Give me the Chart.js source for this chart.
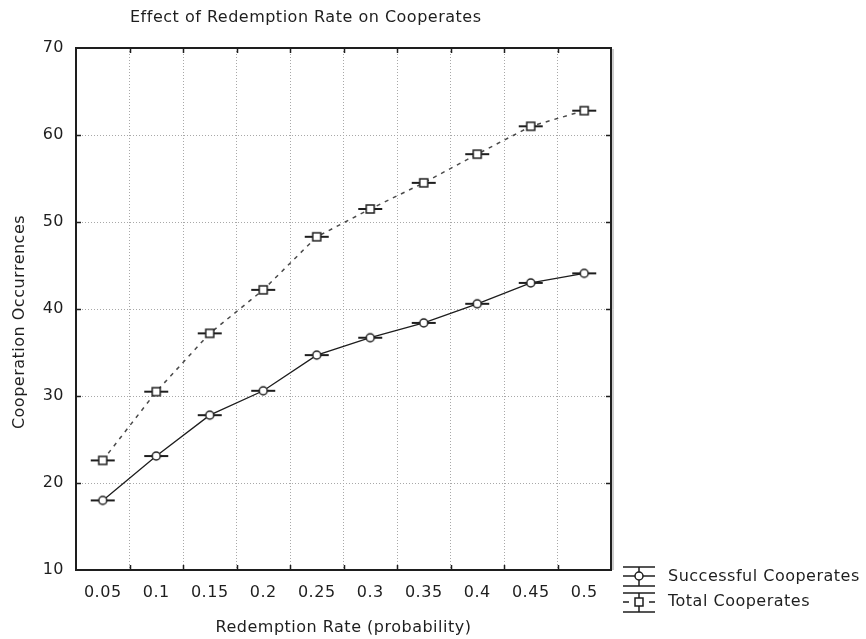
<!DOCTYPE html>
<html>
<head>
<meta charset="utf-8">
<title>Effect of Redemption Rate on Cooperates</title>
<script src="https://cdn.jsdelivr.net/npm/chart.js@4.4.1/dist/chart.umd.min.js"></script>
<style>
  html, body { margin: 0; padding: 0; background: #fff; }
  #wrap { width: 866px; height: 639px; }
</style>
</head>
<body>
<div id="wrap"><canvas id="chart" width="866" height="639"></canvas></div>
<script>
// data
const rates = ['0.05', '0.1', '0.15', '0.2', '0.25', '0.3', '0.35', '0.4', '0.45', '0.5'];
const successful = [18.0, 23.1, 27.8, 30.6, 34.7, 36.7, 38.4, 40.6, 43.0, 44.1];
const total = [22.6, 30.5, 37.2, 42.2, 48.3, 51.5, 54.5, 57.8, 61.0, 62.8];
const yMin = 10, yMax = 70, yStep = 10;
const seriesNames = ['Successful Cooperates', 'Total Cooperates'];
const chartTitle = 'Effect of Redemption Rate on Cooperates';
const xTitle = 'Redemption Rate (probability)';
const yTitle = 'Cooperation Occurrences';

const INK = '#1e1e1e';
const FONT = "16px 'DejaVu Sans'";

// marker = small box/circle sitting on a short horizontal whisker
function makeMarker(shape) {
  const c = document.createElement('canvas');
  c.width = 30; c.height = 12;
  const g = c.getContext('2d');
  g.strokeStyle = INK;
  g.lineWidth = 2;
  g.beginPath(); g.moveTo(3, 6); g.lineTo(27, 6); g.stroke();
  g.fillStyle = '#fff';
  g.lineWidth = 1.5;
  if (shape === 'circle') {
    g.beginPath(); g.arc(15, 6, 4, 0, Math.PI * 2); g.fill(); g.stroke();
  } else {
    g.fillRect(11, 2, 8, 8); g.strokeRect(11, 2, 8, 8);
  }
  return c;
}

function legendIcon(ctx, cx, cy, shape, dashed) {
  ctx.strokeStyle = INK;
  ctx.lineWidth = 1.5;
  ctx.beginPath();
  ctx.moveTo(cx - 16, cy - 9); ctx.lineTo(cx + 16, cy - 9);
  ctx.moveTo(cx - 16, cy + 10); ctx.lineTo(cx + 16, cy + 10);
  ctx.moveTo(cx, cy - 9); ctx.lineTo(cx, cy + 10);
  ctx.stroke();
  ctx.beginPath();
  if (dashed) {
    ctx.moveTo(cx - 16, cy); ctx.lineTo(cx - 10, cy);
    ctx.moveTo(cx + 10, cy); ctx.lineTo(cx + 16, cy);
  } else {
    ctx.moveTo(cx - 16, cy); ctx.lineTo(cx + 16, cy);
  }
  ctx.stroke();
  ctx.fillStyle = '#fff';
  ctx.beginPath();
  if (shape === 'circle') ctx.arc(cx, cy, 4, 0, Math.PI * 2);
  else ctx.rect(cx - 4, cy - 4, 8, 8);
  ctx.fill(); ctx.stroke();
}

const frame = {
  id: 'frame',
  beforeDraw(chart) { chart.ctx.letterSpacing = '0.5px'; },
  afterDraw(chart) {
    const { ctx, chartArea: a, scales: { x, y } } = chart;
    ctx.save();
    ctx.letterSpacing = '0.5px';

    // box round the plot
    ctx.strokeStyle = '#9a9a9a';
    ctx.lineWidth = 1;
    ctx.beginPath();
    ctx.moveTo(a.right + 2, a.top + 1); ctx.lineTo(a.right + 2, a.bottom);
    ctx.stroke();
    ctx.strokeStyle = INK;
    ctx.lineWidth = 2;
    ctx.strokeRect(a.left, a.top, a.right - a.left, a.bottom - a.top);

    // inward tick marks on all four sides
    ctx.lineWidth = 1.5;
    ctx.beginPath();
    for (let i = 1; i < rates.length; i++) {
      const px = Math.round(x.getPixelForValue(i - 0.5)) + 0.5;
      ctx.moveTo(px, a.bottom); ctx.lineTo(px, a.bottom - 5);
      ctx.moveTo(px, a.top); ctx.lineTo(px, a.top + 5);
    }
    for (let v = yMin + yStep; v < yMax; v += yStep) {
      const py = Math.round(y.getPixelForValue(v)) + 0.5;
      ctx.moveTo(a.left, py); ctx.lineTo(a.left + 5, py);
      ctx.moveTo(a.right, py); ctx.lineTo(a.right - 5, py);
    }
    ctx.stroke();

    // titles
    ctx.fillStyle = INK;
    ctx.font = FONT;
    ctx.textBaseline = 'middle';
    ctx.textAlign = 'left';
    ctx.fillText(chartTitle, 130, 18);
    ctx.textAlign = 'center';
    ctx.fillText(xTitle, (a.left + a.right) / 2, 628);
    ctx.save();
    ctx.translate(20, 322);
    ctx.rotate(-Math.PI / 2);
    ctx.fillText(yTitle, 0, 0);
    ctx.restore();

    // legend
    legendIcon(ctx, 639, 576, 'circle', false);
    legendIcon(ctx, 639, 602, 'rect', true);
    ctx.fillStyle = INK;
    ctx.textAlign = 'left';
    ctx.fillText(seriesNames[0], 668, 577);
    ctx.fillText(seriesNames[1], 668, 602);
    ctx.restore();
  }
};

new Chart(document.getElementById('chart'), {
  type: 'line',
  data: {
    labels: rates,
    datasets: [
      {
        label: seriesNames[0],
        data: successful,
        borderColor: INK,
        borderWidth: 1.3,
        pointStyle: makeMarker('circle'),
        pointRadius: 6
      },
      {
        label: seriesNames[1],
        data: total,
        borderColor: '#4a4a4a',
        borderWidth: 1.5,
        borderDash: [4, 5],
        pointStyle: makeMarker('rect'),
        pointRadius: 6
      }
    ]
  },
  options: {
    responsive: false,
    animation: false,
    devicePixelRatio: 1,
    layout: { padding: { top: 48, right: 255, bottom: 0, left: 0 } },
    plugins: {
      legend: { display: false },
      title: { display: false },
      tooltip: { enabled: false }
    },
    scales: {
      x: {
        type: 'category',
        offset: true,
        grid: { offset: true, color: '#a8a8a8', drawTicks: false },
        border: { display: false, dash: [1, 2] },
        ticks: { color: INK, font: { family: 'DejaVu Sans', size: 16 }, padding: 13, maxRotation: 0 },
        afterFit(s) { s.height = 69; }
      },
      y: {
        min: yMin,
        max: yMax,
        ticks: { stepSize: yStep, color: INK, font: { family: 'DejaVu Sans', size: 16 }, padding: 12 },
        grid: { color: '#a8a8a8', drawTicks: false },
        border: { display: false, dash: [1, 2] },
        afterFit(s) { s.width = 76; }
      }
    }
  },
  plugins: [frame]
});
</script>
</body>
</html>
